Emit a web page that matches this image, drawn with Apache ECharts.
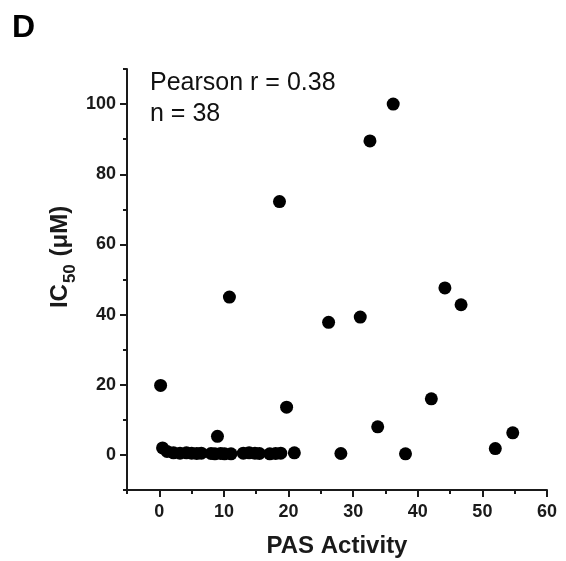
<!DOCTYPE html>
<html>
<head>
<meta charset="utf-8">
<script src="https://cdn.jsdelivr.net/npm/echarts@6/dist/echarts.min.js"></script>
<style>
html,body{margin:0;padding:0;background:#fff;}
#chart{width:566px;height:561px;}
</style>
</head>
<body>
<div id="chart"></div>
<script>
// PAS activity (x) and IC50 in µM (y), n = 38
var pasActivity = [0.2, 0.5, 1.2, 2.2, 3.2, 4.2, 5.0, 5.8, 6.5, 8.0, 8.6, 9.0, 9.5, 10.1, 10.85, 11.1,
  13.0, 13.9, 14.8, 15.5, 17.1, 18.0, 18.6, 18.8, 19.7, 20.9, 26.2, 28.1, 31.1, 32.6, 33.8, 36.2,
  38.1, 42.1, 44.2, 46.7, 52.0, 54.7];
var ic50 = [19.8, 2.0, 1.0, 0.6, 0.5, 0.6, 0.5, 0.4, 0.5, 0.4, 0.3, 5.3, 0.4, 0.3, 45.0, 0.3,
  0.5, 0.6, 0.5, 0.4, 0.3, 0.4, 72.2, 0.5, 13.6, 0.6, 37.8, 0.4, 39.3, 89.5, 8.0, 100.0,
  0.3, 16.0, 47.6, 42.8, 1.8, 6.3];
var xTickLabels = [0, 10, 20, 30, 40, 50, 60];
var xMinorTicks = [-5, 5, 15, 25, 35, 45, 55];
var yTickLabels = [0, 20, 40, 60, 80, 100];
var yMinorTicks = [-10, 10, 30, 50, 70, 90, 110];

var points = pasActivity.map(function (x, i) { return [x, ic50[i]]; });

var FONT = '"Liberation Sans", Arial, Helvetica, sans-serif';
var axisColor = '#1a1a1a';
var chart = echarts.init(document.getElementById('chart'), null, {renderer: 'canvas'});

var option = {
  animation: false,
  backgroundColor: '#ffffff',
  grid: {left: 127, top: 69, width: 420, height: 421, containLabel: false, outerBoundsMode: 'none'},
  xAxis: [{
    type: 'value', min: -5, max: 60,
    axisLine: {show: true, onZero: false, lineStyle: {color: axisColor, width: 2}},
    axisTick: {show: true, customValues: xTickLabels, length: 7, lineStyle: {color: axisColor, width: 2}},
    axisLabel: {show: true, customValues: xTickLabels, margin: 13, color: '#1a1a1a',
      fontFamily: FONT, fontWeight: 'bold', fontSize: 18},
    splitLine: {show: false},
    name: 'PAS Activity', nameLocation: 'middle', nameGap: 44,
    nameTextStyle: {fontFamily: FONT, fontWeight: 'bold', fontSize: 24, color: '#1a1a1a'}
  }, {
    type: 'value', min: -5, max: 60, position: 'bottom', offset: 0,
    axisLine: {show: false, onZero: false},
    axisTick: {show: true, customValues: xMinorTicks, length: 4, lineStyle: {color: axisColor, width: 2}},
    axisLabel: {show: false},
    splitLine: {show: false}
  }],
  yAxis: [{
    type: 'value', min: -10, max: 110,
    axisLine: {show: true, onZero: false, lineStyle: {color: axisColor, width: 2}},
    axisTick: {show: true, customValues: yTickLabels, length: 7, lineStyle: {color: axisColor, width: 2}},
    axisLabel: {show: true, customValues: yTickLabels, margin: 11, color: '#1a1a1a',
      fontFamily: FONT, fontWeight: 'bold', fontSize: 18},
    splitLine: {show: false}
  }, {
    type: 'value', min: -10, max: 110, position: 'left', offset: 0,
    axisLine: {show: false, onZero: false},
    axisTick: {show: true, customValues: yMinorTicks, length: 4, lineStyle: {color: axisColor, width: 2}},
    axisLabel: {show: false},
    splitLine: {show: false}
  }],
  series: [{
    type: 'scatter',
    xAxisIndex: 0, yAxisIndex: 0,
    data: points,
    symbol: 'circle',
    symbolSize: 13,
    itemStyle: {color: '#000000', opacity: 1},
    z: 5
  }],
  graphic: [
    {type: 'text', left: 12, top: 12, style: {text: 'D', font: 'bold 32px ' + FONT, fill: '#000'}},
    {type: 'text', left: 150, top: 71, style: {text: 'Pearson r = 0.38', font: '25px ' + FONT, fill: '#111'}},
    {type: 'text', left: 150, top: 102, style: {text: 'n = 38', font: '25px ' + FONT, fill: '#111'}},
    {type: 'text', x: 59, y: 257, rotation: Math.PI / 2,
      style: {
        text: '{a|IC}{b|50}{a| (μM)}',
        align: 'center', verticalAlign: 'middle',
        rich: {
          a: {fontFamily: FONT, fontWeight: 'bold', fontSize: 24, lineHeight: 27, verticalAlign: 'bottom', fill: '#1a1a1a'},
          b: {fontFamily: FONT, fontWeight: 'bold', fontSize: 17, lineHeight: 19, verticalAlign: 'bottom', padding: [0, 1, -6, 1], fill: '#1a1a1a'}
        }
      }}
  ]
};
chart.setOption(option);
</script>
</body>
</html>
